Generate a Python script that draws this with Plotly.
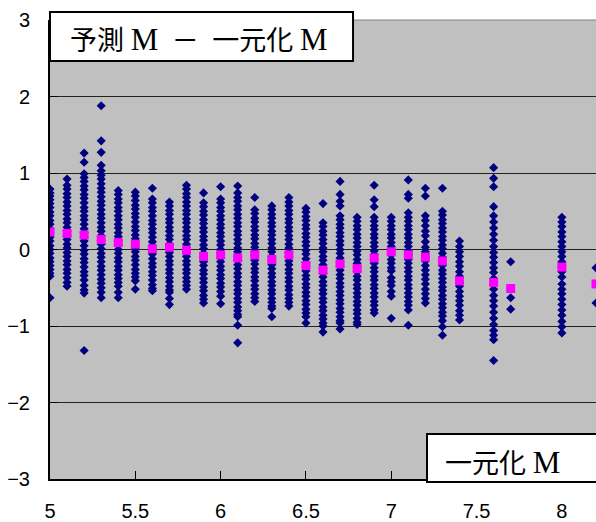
import plotly.graph_objects as go

# Column x positions (一元化 M)
col_x = [5.0, 5.1, 5.2, 5.3, 5.4, 5.5, 5.6, 5.7, 5.8, 5.9, 6.0, 6.1, 6.2, 6.3, 6.4,
         6.5, 6.6, 6.7, 6.8, 6.9, 7.0, 7.1, 7.2, 7.3, 7.4, 7.6, 7.7, 8.0, 8.2]

# Residuals (予測 M - 一元化 M) read from each column
c50 = [0.79, 0.74, 0.70, 0.65, 0.60, 0.55, 0.49, 0.44, 0.38, 0.33, 0.27, 0.22, 0.16, 0.11, 0.05, 0.00, -0.05, -0.11, -0.16, -0.21, -0.26, -0.31, -0.35, -0.63]
c51 = [0.92, 0.84, 0.79, 0.73, 0.68, 0.62, 0.57, 0.51, 0.46, 0.40, 0.35, 0.29, 0.24, 0.18, 0.13, 0.07, 0.02, -0.04, -0.09, -0.15, -0.20, -0.26, -0.31, -0.37, -0.43, -0.48]
c52 = [1.26, 1.14, 0.99, 0.94, 0.89, 0.83, 0.78, 0.72, 0.67, 0.61, 0.55, 0.50, 0.44, 0.39, 0.33, 0.27, 0.22, 0.16, 0.11, 0.05, -0.01, -0.06, -0.12, -0.17, -0.23, -0.29, -0.34, -0.40, -0.47, -0.53, -0.57, -1.32]
c53 = [1.88, 1.42, 1.27, 1.10, 1.03, 0.97, 0.92, 0.86, 0.80, 0.75, 0.69, 0.63, 0.58, 0.52, 0.46, 0.41, 0.35, 0.29, 0.24, 0.18, 0.12, 0.07, 0.01, -0.05, -0.10, -0.16, -0.22, -0.27, -0.33, -0.39, -0.44, -0.50, -0.56, -0.63]
c54 = [0.77, 0.72, 0.66, 0.61, 0.55, 0.50, 0.44, 0.39, 0.33, 0.28, 0.22, 0.17, 0.11, 0.06, 0.00, -0.05, -0.11, -0.16, -0.22, -0.27, -0.33, -0.38, -0.43, -0.48, -0.56, -0.63]
c55 = [0.75, 0.70, 0.64, 0.58, 0.53, 0.47, 0.42, 0.36, 0.30, 0.25, 0.19, 0.14, 0.08, 0.02, -0.03, -0.09, -0.14, -0.20, -0.26, -0.31, -0.36, -0.41, -0.52]
c56 = [0.80, 0.66, 0.61, 0.55, 0.50, 0.44, 0.38, 0.33, 0.27, 0.22, 0.16, 0.10, 0.05, -0.01, -0.06, -0.12, -0.18, -0.23, -0.29, -0.34, -0.40, -0.46, -0.51, -0.54]
c57 = [0.62, 0.57, 0.51, 0.46, 0.40, 0.35, 0.29, 0.24, 0.18, 0.13, 0.07, 0.02, -0.04, -0.09, -0.15, -0.20, -0.26, -0.31, -0.37, -0.42, -0.48, -0.53, -0.56, -0.64, -0.72]
c58 = [0.84, 0.79, 0.73, 0.68, 0.62, 0.57, 0.51, 0.46, 0.40, 0.35, 0.29, 0.24, 0.18, 0.13, 0.07, 0.02, -0.04, -0.09, -0.15, -0.20, -0.26, -0.31, -0.37, -0.42, -0.47, -0.52]
c59 = [0.74, 0.61, 0.56, 0.50, 0.45, 0.39, 0.34, 0.28, 0.23, 0.17, 0.12, 0.06, 0.01, -0.05, -0.10, -0.16, -0.21, -0.27, -0.32, -0.38, -0.43, -0.49, -0.54, -0.60, -0.65, -0.70]
c60 = [0.82, 0.66, 0.61, 0.55, 0.50, 0.44, 0.39, 0.33, 0.28, 0.22, 0.17, 0.11, 0.06, 0.00, -0.05, -0.11, -0.16, -0.22, -0.27, -0.33, -0.38, -0.44, -0.49, -0.55, -0.61, -0.71]
c61 = [0.83, 0.74, 0.68, 0.63, 0.57, 0.52, 0.46, 0.41, 0.35, 0.30, 0.24, 0.19, 0.13, 0.08, 0.02, -0.03, -0.09, -0.14, -0.20, -0.25, -0.31, -0.36, -0.42, -0.47, -0.53, -0.58, -0.64, -0.69, -0.75, -0.80, -0.85, -0.88, -0.99, -1.22]
c62 = [0.68, 0.52, 0.47, 0.41, 0.36, 0.30, 0.25, 0.19, 0.14, 0.08, 0.03, -0.03, -0.08, -0.14, -0.19, -0.25, -0.30, -0.36, -0.41, -0.47, -0.52, -0.58, -0.63, -0.68]
c63 = [0.57, 0.52, 0.46, 0.41, 0.35, 0.30, 0.24, 0.19, 0.13, 0.08, 0.02, -0.03, -0.09, -0.14, -0.20, -0.25, -0.31, -0.36, -0.42, -0.47, -0.53, -0.58, -0.64, -0.69, -0.74, -0.77, -0.88]
c64 = [0.68, 0.62, 0.57, 0.51, 0.46, 0.40, 0.35, 0.29, 0.24, 0.18, 0.13, 0.07, 0.02, -0.04, -0.09, -0.15, -0.20, -0.26, -0.31, -0.37, -0.42, -0.48, -0.53, -0.59, -0.64, -0.69, -0.74]
c65 = [0.54, 0.49, 0.43, 0.38, 0.32, 0.27, 0.21, 0.16, 0.10, 0.05, -0.01, -0.06, -0.12, -0.17, -0.23, -0.28, -0.34, -0.39, -0.45, -0.50, -0.56, -0.61, -0.67, -0.72, -0.78, -0.83, -0.88, -0.96]
c66 = [0.60, 0.35, 0.30, 0.24, 0.19, 0.13, 0.08, 0.02, -0.03, -0.09, -0.14, -0.20, -0.25, -0.31, -0.36, -0.42, -0.47, -0.53, -0.58, -0.64, -0.69, -0.75, -0.80, -0.86, -0.91, -0.96, -1.00, -1.08]
c67 = [0.89, 0.72, 0.63, 0.57, 0.44, 0.39, 0.33, 0.28, 0.22, 0.17, 0.11, 0.06, 0.00, -0.05, -0.11, -0.16, -0.22, -0.27, -0.33, -0.38, -0.44, -0.49, -0.55, -0.60, -0.66, -0.71, -0.77, -0.82, -0.88, -0.93, -0.96, -1.04]
c68 = [0.42, 0.37, 0.31, 0.26, 0.20, 0.15, 0.09, 0.04, -0.02, -0.07, -0.13, -0.18, -0.24, -0.29, -0.35, -0.40, -0.46, -0.51, -0.57, -0.62, -0.68, -0.73, -0.79, -0.84, -0.90, -0.95, -0.98]
c69 = [0.84, 0.65, 0.56, 0.42, 0.37, 0.31, 0.26, 0.20, 0.15, 0.09, 0.04, -0.02, -0.07, -0.13, -0.18, -0.24, -0.29, -0.35, -0.40, -0.46, -0.51, -0.57, -0.62, -0.68, -0.73, -0.79, -0.83]
c70 = [0.42, 0.37, 0.31, 0.26, 0.20, 0.15, 0.09, 0.04, -0.02, -0.07, -0.13, -0.18, -0.24, -0.28, -0.37, -0.42, -0.47, -0.55, -0.61, -0.90]
c71 = [0.91, 0.72, 0.67, 0.48, 0.42, 0.37, 0.31, 0.26, 0.20, 0.15, 0.09, 0.04, -0.02, -0.07, -0.13, -0.18, -0.24, -0.29, -0.35, -0.40, -0.46, -0.51, -0.57, -0.62, -0.68, -0.73, -0.79, -0.99]
c72 = [0.80, 0.70, 0.44, 0.38, 0.31, 0.24, 0.18, 0.10, 0.03, -0.03, -0.09, -0.15, -0.21, -0.27, -0.33, -0.39, -0.45, -0.52, -0.58, -0.64, -0.70]
c73 = [0.80, 0.50, 0.45, 0.39, 0.34, 0.28, 0.23, 0.17, 0.12, 0.06, 0.01, -0.05, -0.10, -0.16, -0.21, -0.27, -0.32, -0.38, -0.43, -0.49, -0.54, -0.60, -0.65, -0.71, -0.76, -0.82, -0.87, -0.93, -1.01, -1.12]
c74 = [0.11, 0.04, -0.03, -0.09, -0.16, -0.22, -0.29, -0.35, -0.42, -0.48, -0.55, -0.61, -0.67, -0.73, -0.80, -0.86, -0.92]
c76 = [1.07, 0.93, 0.82, 0.56, 0.44, 0.36, 0.28, 0.20, 0.12, 0.04, -0.04, -0.10, -0.17, -0.24, -0.30, -0.38, -0.45, -0.52, -0.60, -0.67, -0.74, -0.82, -0.90, -0.98, -1.06, -1.12, -1.18, -1.45]
c77 = [-0.16, -0.63, -0.78]
c80 = [0.42, 0.36, 0.30, 0.23, 0.17, 0.10, 0.04, -0.03, -0.09, -0.16, -0.22, -0.29, -0.36, -0.45, -0.52, -0.58, -0.65, -0.72, -0.79, -0.86, -0.94, -1.01, -1.09]
c82 = [-0.24, -0.70]

col_y = [c50, c51, c52, c53, c54, c55, c56, c57, c58, c59, c60, c61, c62, c63, c64,
         c65, c66, c67, c68, c69, c70, c71, c72, c73, c74, c76, c77, c80, c82]

# Column means (magenta squares)
mean_y = [0.23, 0.21, 0.19, 0.13, 0.09, 0.07, 0.01, 0.03, -0.01, -0.09, -0.07, -0.11, -0.07, -0.13, -0.07,
          -0.21, -0.27, -0.19, -0.25, -0.11, -0.03, -0.07, -0.10, -0.15, -0.41, -0.43, -0.51, -0.23, -0.45]

x_ticks = [5, 5.5, 6, 6.5, 7, 7.5, 8]
x_tick_text = ["5", "5.5", "6", "6.5", "7", "7.5", "8"]
y_ticks = [-3, -2, -1, 0, 1, 2, 3]

xs, ys = [], []
for xv, vals in zip(col_x, col_y):
    for v in vals:
        xs.append(xv)
        ys.append(v)

fig = go.Figure()
fig.add_trace(go.Scatter(x=xs, y=ys, mode="markers",
                         marker=dict(symbol="diamond", size=7, color="#000080", line=dict(width=0)),
                         showlegend=False))
fig.add_trace(go.Scatter(x=col_x, y=mean_y, mode="markers",
                         marker=dict(symbol="square", size=9, color="#FF00FF", line=dict(width=0)),
                         showlegend=False))

tick_font = dict(family="Liberation Sans Narrow, Liberation Sans, Arial", size=20, color="black")
M = "<span style='font-size:31px'>M</span>"

fig.update_layout(
    width=596, height=522,
    margin=dict(l=50, r=0, t=20, b=43),
    paper_bgcolor="white",
    plot_bgcolor="#C0C0C0",
    xaxis=dict(range=[5, 8.2], tickvals=x_ticks, ticktext=x_tick_text, automargin=False,
               showgrid=False, zeroline=False, showline=True, linecolor="black", linewidth=2,
               ticks="inside", ticklen=8, tickcolor="black", tickwidth=1,
               tickfont=tick_font, ticklabelstandoff=13),
    yaxis=dict(range=[-3, 3], tickvals=y_ticks, automargin=False,
               showgrid=True, gridcolor="#222222", gridwidth=1, zeroline=False,
               showline=True, linecolor="black", linewidth=2,
               ticks="inside", ticklen=7, tickcolor="black", tickwidth=1,
               tickfont=tick_font, ticklabelstandoff=14),
    shapes=[
        dict(type="line", xref="paper", yref="paper", x0=0, x1=1, y0=1, y1=1,
             line=dict(color="#808080", width=1)),
        dict(type="rect", xref="paper", yref="paper", x0=0, x1=0.555, y0=0.9107, y1=1.0174,
             fillcolor="white", line=dict(color="black", width=2)),
        dict(type="rect", xref="paper", yref="paper", x0=0.6905, x1=1.02, y0=-0.0065, y1=0.098,
             fillcolor="white", line=dict(color="black", width=2)),
    ],
    annotations=[
        dict(xref="paper", yref="paper", x=0.2729, y=0.9586, xanchor="center", yanchor="middle",
             text="予測 " + M + "\u2002－\u2002一元化 " + M,
             showarrow=False,
             font=dict(family="Liberation Serif, Noto Sans CJK JP", size=27, color="black")),
        dict(xref="paper", yref="paper", x=0.8288, y=0.036, xanchor="center", yanchor="middle",
             text="一元化 " + M, showarrow=False,
             font=dict(family="Liberation Serif, Noto Sans CJK JP", size=27, color="black")),
    ],
)

fig.write_html("out.html", config={"displayModeBar": False},
               post_script="document.body.style.margin='0';")
